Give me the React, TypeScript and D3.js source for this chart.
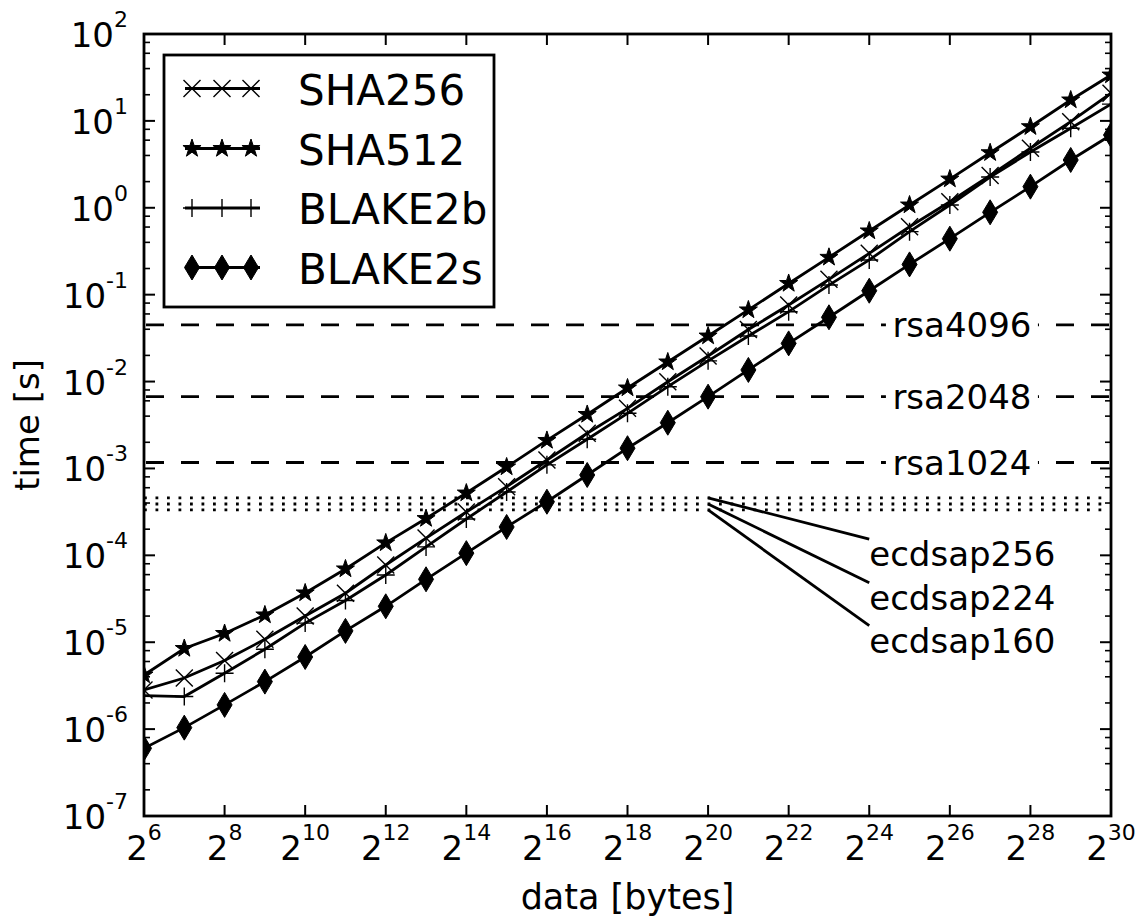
import React from 'react';
import * as d3 from 'd3';

// ---- data ----
const sizeExponents = [6, 7, 8, 9, 10, 11, 12, 13, 14, 15, 16, 17, 18, 19, 20, 21, 22, 23, 24, 25, 26, 27, 28, 29, 30];

const sha256 = [2.82e-6, 3.87e-6, 6.17e-6, 1.08e-5, 2.0e-5, 3.66e-5, 7.74e-5, 1.58e-4, 3.15e-4, 6.17e-4, 1.25e-3, 2.54e-3, 4.92e-3, 9.96e-3, 1.97e-2, 3.97e-2, 7.6e-2, 0.15, 0.299, 0.605, 1.175, 2.35, 4.84, 9.79, 20.8];
const sha512 = [4.2e-6, 8.47e-6, 1.26e-5, 2.06e-5, 3.69e-5, 6.97e-5, 1.39e-4, 2.65e-4, 5.21e-4, 1.04e-3, 2.1e-3, 4.18e-3, 8.43e-3, 1.68e-2, 3.34e-2, 6.67e-2, 0.1345, 0.269, 0.541, 1.076, 2.14, 4.3, 8.57, 17.4, 33.7];
const blake2b = [2.43e-6, 2.37e-6, 4.39e-6, 8.3e-6, 1.66e-5, 3.02e-5, 5.94e-5, 1.25e-4, 2.62e-4, 5.36e-4, 1.1e-3, 2.17e-3, 4.31e-3, 8.73e-3, 1.73e-2, 3.34e-2, 6.37e-2, 0.129, 0.251, 0.531, 1.076, 2.26, 4.38, 8.22, 15.6];
const blake2s = [6.01e-7, 1.04e-6, 1.9e-6, 3.52e-6, 6.76e-6, 1.35e-5, 2.59e-5, 5.3e-5, 1.06e-4, 2.12e-4, 4.14e-4, 8.41e-4, 1.71e-3, 3.36e-3, 6.7e-3, 1.36e-2, 2.75e-2, 5.49e-2, 0.111, 0.223, 0.441, 0.887, 1.75, 3.55, 6.88];

const seriesNames = ['SHA256', 'SHA512', 'BLAKE2b', 'BLAKE2s'];
const seriesMarkers = ['x', 'star', 'plus', 'diamond'];

const rsaNames = ['rsa4096', 'rsa2048', 'rsa1024'];
const rsaTimes = [0.0448, 0.0067, 0.00117];
const rsaLabelExponent = 26.3;

const ecdsaNames = ['ecdsap256', 'ecdsap224', 'ecdsap160'];
const ecdsaTimes = [4.58e-4, 3.9e-4, 3.33e-4];
const ecdsaPointExponent = 20;
const ecdsaLabelExponent = 24;
const ecdsaLabelTimes = [1.54e-4, 4.84e-5, 1.55e-5];

const xTickExponents = [6, 8, 10, 12, 14, 16, 18, 20, 22, 24, 26, 28, 30];
const yTickExponents = [-7, -6, -5, -4, -3, -2, -1, 0, 1, 2];
const yMinorMultipliers = [2, 4, 6, 8];

// ---- layout ----
const W = 1137, H = 917;
const L = 144, R = 1111, T = 34, B = 816;
const FONT = 'DejaVu Sans, sans-serif';
const LW = 2.8;

function starPath(ro: number, ri: number) {
  const pts: [number, number][] = [];
  for (let i = 0; i < 10; i++) {
    const r = i % 2 === 0 ? ro : ri;
    const a = -Math.PI / 2 + (i * Math.PI) / 5;
    pts.push([r * Math.cos(a), r * Math.sin(a)]);
  }
  return 'M' + pts.map(p => p[0].toFixed(2) + ',' + p[1].toFixed(2)).join('L') + 'Z';
}

const markerPaths: Record<string, { d: string; fill: boolean }> = {
  x: { d: 'M-8.5,-8.5L8.5,8.5M-8.5,8.5L8.5,-8.5', fill: false },
  plus: { d: 'M-9,0L9,0M0,-9L0,9', fill: false },
  star: { d: starPath(9.5, 3.7), fill: true },
  diamond: { d: 'M0,-12.5L7.5,0L0,12.5L-7.5,0Z', fill: true },
};

function Marker({ kind, x, y }: { kind: string; x: number; y: number }) {
  const m = markerPaths[kind];
  return (
    <path
      d={m.d}
      transform={`translate(${x},${y})`}
      fill={m.fill ? '#000' : 'none'}
      stroke="#000"
      strokeWidth={m.fill ? 1 : 1.4}
    />
  );
}

export default function App() {
  const x = d3.scaleLog().base(2).domain([2 ** 6, 2 ** 30]).range([L, R]);
  const y = d3.scaleLog().domain([1e-7, 1e2]).range([B, T]);
  const allSeries = [sha256, sha512, blake2b, blake2s];
  const line = d3
    .line<[number, number]>()
    .x(d => x(2 ** d[0]))
    .y(d => y(d[1]));

  const minorTicks: number[] = [];
  yTickExponents.forEach(e => {
    if (e < 2) yMinorMultipliers.forEach(m => minorTicks.push(m * 10 ** e));
  });

  const legendX = 164, legendY = 55, legendW = 330, legendH = 252;
  const legendRowY = [88.5, 148.5, 208, 267.5];

  return (
    <svg width={W} height={H} style={{ position: 'absolute', left: 0, top: 0, background: '#fff' }} fontFamily={FONT}>
      <defs>
        <clipPath id="plot">
          <rect x={L} y={T} width={R - L} height={B - T} />
        </clipPath>
      </defs>
      <rect x={0} y={0} width={W} height={H} fill="#fff" />

      <g clipPath="url(#plot)">
        {rsaTimes.map((t, i) => (
          <line key={'rsa' + i} x1={L} x2={R} y1={y(t)} y2={y(t)} stroke="#000" strokeWidth={LW} strokeDasharray="18,17" strokeDashoffset={-2} />
        ))}
        {ecdsaTimes.map((t, i) => (
          <line key={'ec' + i} x1={L} x2={R} y1={y(t)} y2={y(t)} stroke="#000" strokeWidth={LW} strokeDasharray="2.8,8.7" />
        ))}
        {allSeries.map((vals, si) => {
          const pts = sizeExponents.map((e, i) => [e, vals[i]] as [number, number]);
          return (
            <g key={'s' + si}>
              <path d={line(pts) || ''} fill="none" stroke="#000" strokeWidth={LW} />
              {pts.map((p, i) => (
                <Marker key={i} kind={seriesMarkers[si]} x={x(2 ** p[0])} y={y(p[1])} />
              ))}
            </g>
          );
        })}
      </g>

      {rsaNames.map((n, i) => {
        const cx = x(2 ** rsaLabelExponent);
        const cy = y(rsaTimes[i]);
        return (
          <g key={'rl' + i}>
            <rect x={cx - 76} y={cy - 18} width={152} height={36} fill="#fff" />
            <text x={cx} y={cy + 12} fontSize={34} textAnchor="middle" fill="#000">{n}</text>
          </g>
        );
      })}

      {ecdsaNames.map((n, i) => {
        const x1 = x(2 ** ecdsaPointExponent), y1 = y(ecdsaTimes[i]);
        const x2 = x(2 ** ecdsaLabelExponent), y2 = y(ecdsaLabelTimes[i]);
        return (
          <g key={'ea' + i}>
            <line x1={x1} y1={y1} x2={x2} y2={y2} stroke="#000" strokeWidth={LW} />
            <text x={x2} y={y2 + 27} fontSize={34} fill="#000">{n}</text>
          </g>
        );
      })}

      <rect x={L} y={T} width={R - L} height={B - T} fill="none" stroke="#000" strokeWidth={2.8} />

      {xTickExponents.map(e => {
        const px = x(2 ** e);
        return (
          <g key={'xt' + e}>
            <line x1={px} x2={px} y1={B} y2={B - 11} stroke="#000" strokeWidth={2} />
            <line x1={px} x2={px} y1={T} y2={T + 11} stroke="#000" strokeWidth={2} />
            <text x={px} y={860} fontSize={34} textAnchor="middle" fill="#000">
              <tspan>2</tspan>
              <tspan dy={-20} fontSize={22}>{e}</tspan>
            </text>
          </g>
        );
      })}

      {yTickExponents.map(e => {
        const py = y(10 ** e);
        return (
          <g key={'yt' + e}>
            <line x1={L} x2={L + 11} y1={py} y2={py} stroke="#000" strokeWidth={2} />
            <line x1={R} x2={R - 11} y1={py} y2={py} stroke="#000" strokeWidth={2} />
            <text x={128} y={py + 13} fontSize={34} textAnchor="end" fill="#000">
              <tspan>10</tspan>
              <tspan dy={-20} fontSize={22}>{e}</tspan>
            </text>
          </g>
        );
      })}
      {minorTicks.map((v, i) => {
        const py = y(v);
        return (
          <g key={'ym' + i}>
            <line x1={L} x2={L + 6} y1={py} y2={py} stroke="#000" strokeWidth={1.6} />
            <line x1={R} x2={R - 6} y1={py} y2={py} stroke="#000" strokeWidth={1.6} />
          </g>
        );
      })}

      <text x={(L + R) / 2} y={909} fontSize={35} textAnchor="middle" fill="#000">data [bytes]</text>
      <text transform={`translate(39,${(T + B) / 2}) rotate(-90)`} fontSize={34} textAnchor="middle" fill="#000">time [s]</text>

      <rect x={legendX} y={legendY} width={legendW} height={legendH} fill="#fff" stroke="#000" strokeWidth={2.8} />
      {seriesNames.map((n, i) => {
        const ly = legendRowY[i];
        return (
          <g key={'lg' + i}>
            <line x1={185} x2={260} y1={ly} y2={ly} stroke="#000" strokeWidth={LW} />
            {[192, 222, 251].map(mx => (
              <Marker key={mx} kind={seriesMarkers[i]} x={mx} y={ly} />
            ))}
            <text x={298} y={ly + 16} fontSize={42} fill="#000">{n}</text>
          </g>
        );
      })}
    </svg>
  );
}
